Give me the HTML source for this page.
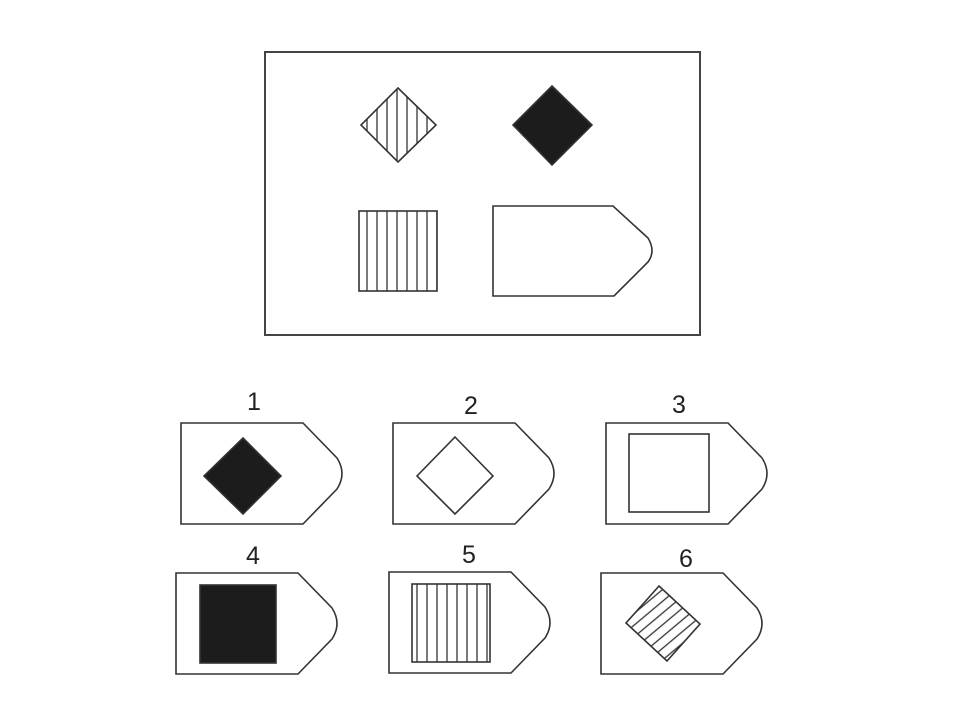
<!DOCTYPE html>
<html><head><meta charset="utf-8"><style>
html,body{margin:0;padding:0;background:#fff;width:960px;height:720px;overflow:hidden}
svg{display:block}
text{font-family:"Liberation Sans",sans-serif;font-size:25px;fill:#222}
</style></head><body>
<svg id="s" width="960" height="720" viewBox="0 0 960 720" stroke="#333" fill="none" stroke-width="1.6">
<defs>
<pattern id="vstripe" patternUnits="userSpaceOnUse" width="10" height="10" x="2">
<line x1="5" y1="0" x2="5" y2="10" stroke="#333" stroke-width="1.3"/></pattern>
<pattern id="rstripe" patternUnits="userSpaceOnUse" width="9" height="9" patternTransform="rotate(-40)">
<line x1="0" y1="4.5" x2="9" y2="4.5" stroke="#333" stroke-width="1.3"/></pattern>
</defs>
<rect x="265" y="52" width="435" height="283" stroke="#444" stroke-width="2"/>
<polygon points="398,88 436,125 398,162 361,125" fill="url(#vstripe)"/>
<polygon points="552,86 592,125 552,165 513,125" fill="#1c1c1c"/>
<rect x="359" y="211" width="78" height="80" fill="url(#vstripe)"/>
<path d="M493,206 L613,206 L648,238 Q656,251 648,262 L614,296 L493,296 Z"/>
<g id="opts"></g>
</svg>
<script>
const optX=[181,393,606,176,389,601];
const optY=[423,423,423,573,572,573];
const labels=["1","2","3","4","5","6"];
const labelDx=[73,78,73,77,80,85];
const labelDy=[-13,-9,-10,-9,-9,-6];
const g=document.getElementById('opts');
const NS='http://www.w3.org/2000/svg';
function mk(tag,attrs){const e=document.createElementNS(NS,tag);for(const k in attrs)e.setAttribute(k,attrs[k]);g.appendChild(e);return e;}
for(let i=0;i<6;i++){
  const x=optX[i],y=optY[i],h=101;
  const p=mk('path',{d:`M${x},${y} L${x+122},${y} L${x+156},${y+35} Q${x+166},${y+h/2} ${x+156},${y+h-35} L${x+122},${y+h} L${x},${y+h} Z`});
  
  
  const t=mk('text',{x:x+labelDx[i],y:y+labelDy[i],'text-anchor':'middle',stroke:'none'});
  t.textContent=labels[i];
  
  
}
let e;
e=mk('polygon',{points:'243,438 281,476 243,514 204,476',fill:'#1c1c1c'});


e=mk('polygon',{points:'455,437 493,476 455,514 417,476'});


e=mk('rect',{x:629,y:434,width:80,height:78});


e=mk('rect',{x:200,y:585,width:76,height:78,fill:'#1c1c1c'});


e=mk('rect',{x:412,y:584,width:78,height:78,fill:'url(#vstripe)'});


e=mk('polygon',{points:'659,586 700,624 667,661 626,623',fill:'url(#rstripe)'});


</script>
</body></html>
